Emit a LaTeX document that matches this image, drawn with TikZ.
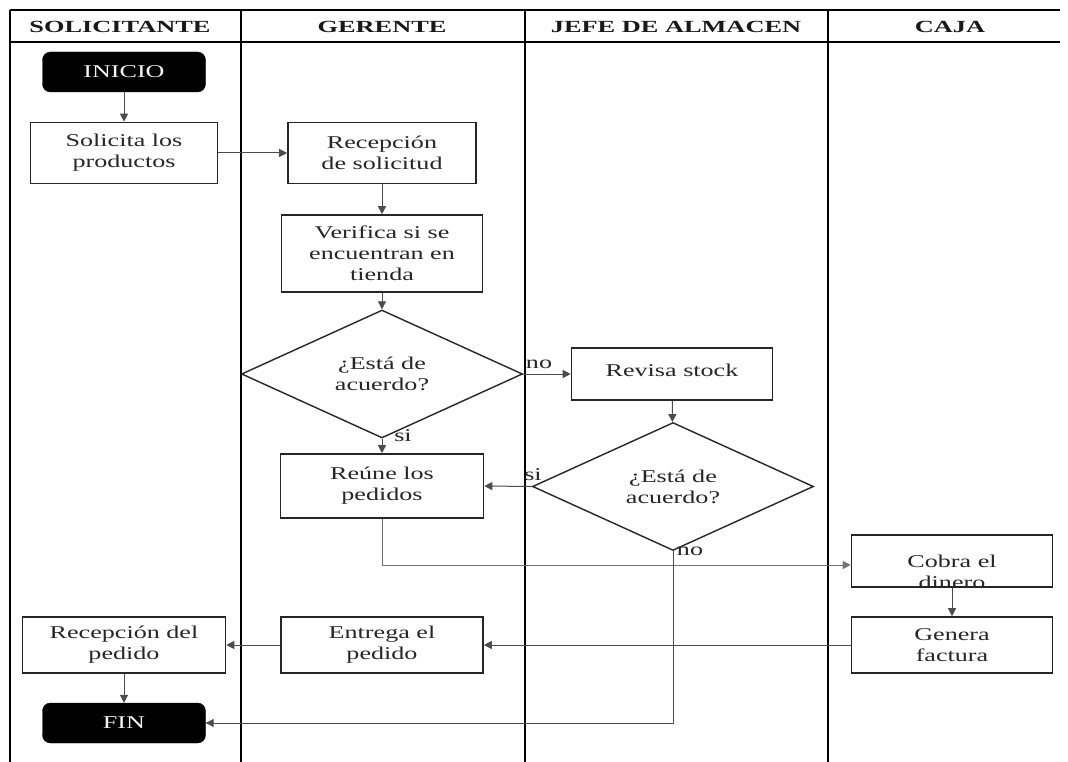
\documentclass[tikz,border=0pt]{standalone}
\usepackage{fontspec}
\setmainfont{Liberation Serif}[FakeStretch=1.45]
\newfontfamily\headfont{Liberation Serif}[FakeStretch=1.55]
\usetikzlibrary{shapes.geometric,arrows.meta}

\begin{document}
\begin{tikzpicture}[x=1pt,y=-1pt,
  every node/.style={font=\fontsize{18}{21}\selectfont, text=black!85},
  lane/.style={line width=2pt, draw=black},
  head/.style={font=\headfont\bfseries\fontsize{17}{20}\selectfont, text=black!90},
  procbox/.style={draw=black!85, line width=1.6pt, rectangle, inner sep=0pt,
    minimum width=202pt, minimum height=57pt, align=center},
  terminal/.style={draw=black, fill=black, rounded corners=8pt, inner sep=0pt,
    minimum width=163pt, minimum height=40pt, text=white!92!gray},
  decision/.style={draw=black!85, line width=1.4pt, diamond, inner sep=0pt,
    minimum width=281pt, minimum height=108pt, align=center},
  flow/.style={draw=black!70, line width=1pt,
    -{Triangle[length=8pt,width=8pt]}},
  tag/.style={inner sep=0pt}
]
\useasboundingbox (0,0) rectangle (1068,762);
\fill[white] (0,0) rectangle (1068,762);

% swimlane frame
\draw[lane] (10,10) -- (1060,10);
\draw[lane] (10,42) -- (1060,42);
\foreach \lx in {10,241,525,828}
  \draw[lane] (\lx,10) -- (\lx,762);

\node[head] (hsol) at (120,27) {SOLICITANTE};
\node[head] (hger) at (382,27) {GERENTE};
\node[head] (hjef) at (676,27) {JEFE DE ALMACEN};
\node[head] (hcaj) at (950,27) {CAJA};

% steps
\node[terminal] (inicio) at (124,72) {INICIO};
\node[procbox, minimum width=187pt, minimum height=61pt] (sol) at (124,153) {Solicita los\\productos};
\node[procbox, minimum width=188pt, minimum height=61pt] (rec) at (382,153) {Recepción\\de solicitud};
\node[procbox, minimum width=201pt, minimum height=77pt] (ver) at (382,253.5) {Verifica si se\\encuentran en\\tienda};
\node[decision] (d1) at (382,374) {¿Está de\\acuerdo?};
\node[procbox, minimum width=201pt, minimum height=52pt] (rev) at (672,374) {\raisebox{7pt}{Revisa stock}};
\node[decision] (d2) at (673,486.5) {¿Está de\\acuerdo?};
\node[procbox, minimum width=203pt, minimum height=64pt] (reu) at (382,486) {Reúne los\\pedidos};
\node[procbox, minimum width=201pt, minimum height=52pt] (cobra) at (952,561) {};
\begin{scope}
  \clip (cobra.south west) rectangle (cobra.north east);
  \node[align=center] (cobratxt) at (952,572) {Cobra el\\dinero};
\end{scope}
\node[procbox, minimum width=201pt, minimum height=56pt] (gen) at (952,645) {Genera\\factura};
\node[procbox, minimum width=202pt, minimum height=56pt] (ent) at (382,645) {Entrega el\\pedido};
\node[procbox, minimum width=203pt, minimum height=56pt] (recp) at (124,645) {Recepción del\\pedido};
\node[terminal] (fin) at (124,723) {FIN};

% connectors
\draw[flow] (inicio) -- (sol);
\draw[flow] (sol) -- (rec);
\draw[flow] (rec) -- (ver);
\draw[flow] (ver) -- (d1);
\draw[flow] (d1.east) -- (rev.west);
\draw[flow] (d1.south) -- (reu.north);
\draw[flow] (rev) -- (d2);
\draw[flow] (d2.west) -- (reu.east);
\draw[flow, draw=black!55] (reu.south) |- ([yshift=-4pt]cobra.west);
\draw[flow] (d2.south) |- (fin.east);
\draw[flow] (cobra) -- (gen);
\draw[flow] (gen.west) -- (ent.east);
\draw[flow] (ent.west) -- (recp.east);
\draw[flow] (recp) -- (fin);

% branch labels
\node[tag] (no1) at (539,364) {no};
\node[tag] (si1) at (403,436) {si};
\node[tag] (si2) at (533,475) {si};
\node[tag] (no2) at (690,551) {no};
\end{tikzpicture}
\end{document}
